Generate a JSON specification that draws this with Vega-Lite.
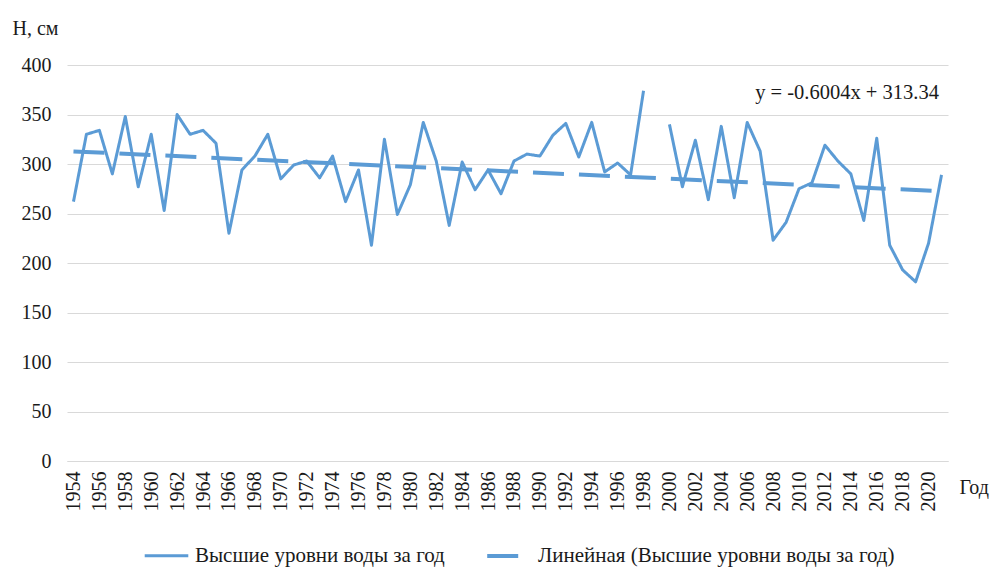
{
  "$schema": "https://vega.github.io/schema/vega-lite/v6.json",
  "autosize": {"type": "none"},
  "width": 881,
  "height": 396,
  "padding": {"left": 67, "top": 65, "right": 44, "bottom": 106},
  "background": "white",
  "config": {
    "view": {"stroke": null},
    "font": "Liberation Serif",
    "axis": {"labelFont": "Liberation Serif", "titleFont": "Liberation Serif", "labelFontSize": 20, "titleFontSize": 20, "labelColor": "#1a1a1a", "titleColor": "#1a1a1a", "titleFontWeight": "normal", "labelOverlap": false},
    "legend": {"labelFont": "'Times New Roman', 'Liberation Serif', serif", "labelFontSize": 21, "labelColor": "#1a1a1a", "labelLimit": 0},
    "text": {"font": "'Times New Roman', 'Liberation Serif', serif"}
  },
  "datasets": {
    "levels": [
      {"year": 1954, "h": 262, "series": "Высшие уровни воды за год"},
      {"year": 1955, "h": 330, "series": "Высшие уровни воды за год"},
      {"year": 1956, "h": 334, "series": "Высшие уровни воды за год"},
      {"year": 1957, "h": 290, "series": "Высшие уровни воды за год"},
      {"year": 1958, "h": 348, "series": "Высшие уровни воды за год"},
      {"year": 1959, "h": 277, "series": "Высшие уровни воды за год"},
      {"year": 1960, "h": 330, "series": "Высшие уровни воды за год"},
      {"year": 1961, "h": 253, "series": "Высшие уровни воды за год"},
      {"year": 1962, "h": 350, "series": "Высшие уровни воды за год"},
      {"year": 1963, "h": 330, "series": "Высшие уровни воды за год"},
      {"year": 1964, "h": 334, "series": "Высшие уровни воды за год"},
      {"year": 1965, "h": 321, "series": "Высшие уровни воды за год"},
      {"year": 1966, "h": 230, "series": "Высшие уровни воды за год"},
      {"year": 1967, "h": 294, "series": "Высшие уровни воды за год"},
      {"year": 1968, "h": 308, "series": "Высшие уровни воды за год"},
      {"year": 1969, "h": 330, "series": "Высшие уровни воды за год"},
      {"year": 1970, "h": 285, "series": "Высшие уровни воды за год"},
      {"year": 1971, "h": 299, "series": "Высшие уровни воды за год"},
      {"year": 1972, "h": 303, "series": "Высшие уровни воды за год"},
      {"year": 1973, "h": 286, "series": "Высшие уровни воды за год"},
      {"year": 1974, "h": 308, "series": "Высшие уровни воды за год"},
      {"year": 1975, "h": 262, "series": "Высшие уровни воды за год"},
      {"year": 1976, "h": 294, "series": "Высшие уровни воды за год"},
      {"year": 1977, "h": 218, "series": "Высшие уровни воды за год"},
      {"year": 1978, "h": 325, "series": "Высшие уровни воды за год"},
      {"year": 1979, "h": 249, "series": "Высшие уровни воды за год"},
      {"year": 1980, "h": 279, "series": "Высшие уровни воды за год"},
      {"year": 1981, "h": 342, "series": "Высшие уровни воды за год"},
      {"year": 1982, "h": 303, "series": "Высшие уровни воды за год"},
      {"year": 1983, "h": 238, "series": "Высшие уровни воды за год"},
      {"year": 1984, "h": 302, "series": "Высшие уровни воды за год"},
      {"year": 1985, "h": 274, "series": "Высшие уровни воды за год"},
      {"year": 1986, "h": 294, "series": "Высшие уровни воды за год"},
      {"year": 1987, "h": 270, "series": "Высшие уровни воды за год"},
      {"year": 1988, "h": 303, "series": "Высшие уровни воды за год"},
      {"year": 1989, "h": 310, "series": "Высшие уровни воды за год"},
      {"year": 1990, "h": 308, "series": "Высшие уровни воды за год"},
      {"year": 1991, "h": 329, "series": "Высшие уровни воды за год"},
      {"year": 1992, "h": 341, "series": "Высшие уровни воды за год"},
      {"year": 1993, "h": 307, "series": "Высшие уровни воды за год"},
      {"year": 1994, "h": 342, "series": "Высшие уровни воды за год"},
      {"year": 1995, "h": 292, "series": "Высшие уровни воды за год"},
      {"year": 1996, "h": 301, "series": "Высшие уровни воды за год"},
      {"year": 1997, "h": 289, "series": "Высшие уровни воды за год"},
      {"year": 1998, "h": 374, "series": "Высшие уровни воды за год"},
      {"year": 1999, "h": null, "series": "Высшие уровни воды за год"},
      {"year": 2000, "h": 340, "series": "Высшие уровни воды за год"},
      {"year": 2001, "h": 277, "series": "Высшие уровни воды за год"},
      {"year": 2002, "h": 324, "series": "Высшие уровни воды за год"},
      {"year": 2003, "h": 264, "series": "Высшие уровни воды за год"},
      {"year": 2004, "h": 338, "series": "Высшие уровни воды за год"},
      {"year": 2005, "h": 266, "series": "Высшие уровни воды за год"},
      {"year": 2006, "h": 342, "series": "Высшие уровни воды за год"},
      {"year": 2007, "h": 313, "series": "Высшие уровни воды за год"},
      {"year": 2008, "h": 223, "series": "Высшие уровни воды за год"},
      {"year": 2009, "h": 241, "series": "Высшие уровни воды за год"},
      {"year": 2010, "h": 275, "series": "Высшие уровни воды за год"},
      {"year": 2011, "h": 281, "series": "Высшие уровни воды за год"},
      {"year": 2012, "h": 319, "series": "Высшие уровни воды за год"},
      {"year": 2013, "h": 303, "series": "Высшие уровни воды за год"},
      {"year": 2014, "h": 290, "series": "Высшие уровни воды за год"},
      {"year": 2015, "h": 243, "series": "Высшие уровни воды за год"},
      {"year": 2016, "h": 326, "series": "Высшие уровни воды за год"},
      {"year": 2017, "h": 218, "series": "Высшие уровни воды за год"},
      {"year": 2018, "h": 193, "series": "Высшие уровни воды за год"},
      {"year": 2019, "h": 181, "series": "Высшие уровни воды за год"},
      {"year": 2020, "h": 220, "series": "Высшие уровни воды за год"},
      {"year": 2021, "h": 289, "series": "Высшие уровни воды за год"},
      {"year": 1954, "h": 312.74, "series": "Линейная (Высшие уровни воды за год)"},
      {"year": 2021, "h": 272.51, "series": "Линейная (Высшие уровни воды за год)"}
    ],
    "note": [{"label": "y = -0.6004x  + 313.34", "year": 2020.8, "h": 372}]
  },
  "encoding": {
    "x": {
      "field": "year", "type": "quantitative",
      "scale": {"domain": [1953.5, 2021.5], "nice": false, "zero": false},
      "axis": {
        "title": "Год", "titleX": 892, "titleY": 26, "titleAlign": "left", "titleBaseline": "middle", "titleAngle": 0,
        "titleFont": "Liberation Serif", "titleFontSize": 20, "titleFontWeight": "normal", "titleColor": "#1a1a1a",
        "labelFont": "Liberation Serif", "labelFontSize": 20, "labelColor": "#1a1a1a",
        "values": [1954,1956,1958,1960,1962,1964,1966,1968,1970,1972,1974,1976,1978,1980,1982,1984,1986,1988,1990,1992,1994,1996,1998,2000,2002,2004,2006,2008,2010,2012,2014,2016,2018,2020],
        "format": "d", "labelAngle": -90, "labelAlign": "right", "labelBaseline": "middle", "labelPadding": 10, "labelOverlap": false, "labelSeparation": 0, "labelFlush": false, "labelBound": false,
        "grid": false, "ticks": false, "domain": true, "domainColor": "#d9d9d9", "domainWidth": 1
      }
    },
    "y": {
      "field": "h", "type": "quantitative",
      "scale": {"domain": [0, 400], "nice": false},
      "axis": {
        "title": "H, см", "titleAngle": 0, "titleX": -55, "titleY": -37, "titleAlign": "left", "titleBaseline": "middle",
        "titleFont": "Liberation Serif", "titleFontSize": 20, "titleFontWeight": "normal", "titleColor": "#1a1a1a",
        "labelFont": "Liberation Serif", "labelFontSize": 20, "labelColor": "#1a1a1a",
        "values": [0, 50, 100, 150, 200, 250, 300, 350, 400],
        "labelPadding": 16, "ticks": false, "domain": false, "labelOverlap": false,
        "grid": true, "gridColor": "#d9d9d9", "gridWidth": 1
      }
    }
  },
  "layer": [
    {
      "data": {"name": "levels"},
      "mark": {"type": "line", "strokeJoin": "round", "strokeCap": "butt", "invalid": "break-paths-show-domains"},
      "encoding": {
        "color": {
          "field": "series", "type": "nominal",
          "scale": {"domain": ["Высшие уровни воды за год", "Линейная (Высшие уровни воды за год)"], "range": ["#5B9BD5", "#5B9BD5"]},
          "legend": {
            "title": null, "orient": "none", "direction": "horizontal", "legendX": 76, "legendY": 467,
            "symbolType": "stroke", "symbolSize": 1900, "symbolStrokeWidth": 3.2, "labelOffset": 5, "columnPadding": 34, "labelLimit": 0
          }
        },
        "strokeDash": {
          "field": "series", "type": "nominal",
          "scale": {"domain": ["Высшие уровни воды за год", "Линейная (Высшие уровни воды за год)"], "range": [[1, 0], [31, 15]]},
          "legend": {
            "title": null, "orient": "none", "direction": "horizontal", "legendX": 76, "legendY": 467,
            "symbolType": "stroke", "symbolSize": 1900, "symbolStrokeWidth": 3.2, "labelOffset": 5, "columnPadding": 34, "labelLimit": 0
          }
        },
        "strokeWidth": {
          "field": "series", "type": "nominal",
          "scale": {"domain": ["Высшие уровни воды за год", "Линейная (Высшие уровни воды за год)"], "range": [3, 4]},
          "legend": null
        }
      }
    },
    {
      "data": {"name": "note"},
      "mark": {"type": "text", "align": "right", "baseline": "middle", "fontSize": 20.5, "color": "#1a1a1a"},
      "encoding": {
        "text": {"field": "label"}
      }
    }
  ]
}
